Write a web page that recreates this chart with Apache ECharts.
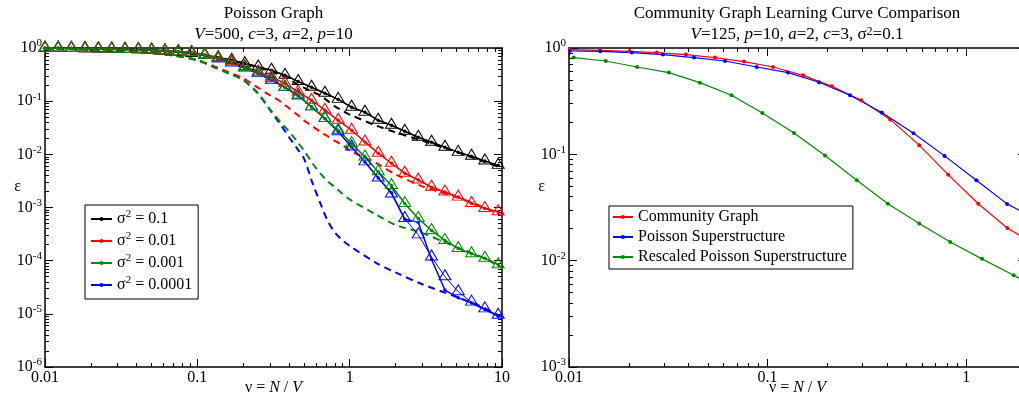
<!DOCTYPE html>
<html>
<head>
<meta charset="utf-8">
<script src="https://cdn.jsdelivr.net/npm/echarts@6/dist/echarts.min.js"></script>
<style>
  html, body { margin: 0; padding: 0; background: #fff; }
  #chartRoot { width: 1019px; height: 393px; }
</style>
</head>
<body>
<div id="chartRoot"></div>
<script>
// left panel: Poisson graph, sampled points (triangles), dotted fit, dashed theory
const sigmaLabels = ["0.1", "0.01", "0.001", "0.0001"];

const nuTri = [
  0.01, 0.0122, 0.0149, 0.0183, 0.0224, 0.0274, 0.0335, 0.041, 0.0501, 0.0613,
  0.075, 0.0917, 0.112, 0.137, 0.168, 0.205, 0.251, 0.307, 0.376, 0.459,
  0.562, 0.688, 0.841, 1.03, 1.26, 1.54, 1.88, 2.3, 2.82, 3.45,
  4.22, 5.16, 6.31, 7.72, 9.44,
];
const blackTri = [
  0.99, 0.99, 0.99, 0.98, 0.97, 0.96, 0.95, 0.94, 0.92, 0.88,
  0.84, 0.79, 0.73, 0.66, 0.587, 0.509, 0.439, 0.381, 0.307, 0.235,
  0.183, 0.141, 0.108, 0.0769, 0.0619, 0.0437, 0.0353, 0.0272, 0.021, 0.0169,
  0.0136, 0.0109, 0.0092, 0.0075, 0.0062,
];
const redTri = [
  0.99, 0.99, 0.98, 0.97, 0.96, 0.95, 0.94, 0.93, 0.91, 0.88,
  0.86, 0.83, 0.745, 0.65, 0.56, 0.45, 0.354, 0.285, 0.214, 0.149,
  0.104, 0.0676, 0.0437, 0.0284, 0.0171, 0.0105, 0.0068, 0.0044, 0.0033, 0.0024,
  0.00196, 0.00157, 0.00119, 0.00096, 0.00083,
];
const greenTri = [
  0.99, 0.99, 0.98, 0.97, 0.96, 0.95, 0.94, 0.93, 0.91, 0.88,
  0.85, 0.81, 0.73, 0.63, 0.53, 0.43, 0.34, 0.266, 0.18, 0.125,
  0.078, 0.047, 0.0283, 0.016, 0.0089, 0.0047, 0.0026, 0.00119, 0.00062, 0.00037,
  0.00024, 0.000169, 0.000135, 0.000111, 0.000084,
];
const blueTri = [
  0.99, 0.99, 0.98, 0.97, 0.96, 0.95, 0.94, 0.93, 0.91, 0.88,
  0.85, 0.8, 0.72, 0.62, 0.52, 0.42, 0.33, 0.247, 0.183, 0.129,
  0.078, 0.047, 0.0265, 0.0137, 0.0072, 0.0036, 0.0018, 0.00062, 0.000306, 0.000117,
  0.00005, 0.000026, 0.0000166, 0.0000124, 0.0000094,
];
const blueDot = [
  0.99, 0.99, 0.98, 0.97, 0.96, 0.95, 0.94, 0.93, 0.91, 0.88,
  0.85, 0.8, 0.72, 0.62, 0.52, 0.42, 0.33, 0.247, 0.183, 0.129,
  0.078, 0.047, 0.0265, 0.0137, 0.0072, 0.0036, 0.0019, 0.0006, 0.00053, 0.000105,
  0.000028, 0.00002, 0.000016, 0.000012, 0.000009,
];

const nuDash = [
  0.01, 0.02, 0.04, 0.07, 0.1, 0.13, 0.16, 0.2, 0.25, 0.3,
  0.35, 0.4, 0.45, 0.5, 0.57, 0.65, 0.72, 0.8, 0.9, 1,
  1.5, 2, 3, 5, 7, 10,
];
const blackDash = [
  0.99, 0.97, 0.93, 0.85, 0.77, 0.68, 0.6, 0.52, 0.44, 0.37,
  0.31, 0.26, 0.21, 0.18, 0.15, 0.125, 0.1, 0.08, 0.066, 0.056,
  0.0345, 0.026, 0.018, 0.0112, 0.0079, 0.0055,
];
const redDash = [
  0.99, 0.93, 0.84, 0.72, 0.59, 0.45, 0.35, 0.27, 0.18, 0.129,
  0.0995, 0.0737, 0.0566, 0.0437, 0.0337, 0.026, 0.0218, 0.0179, 0.0148, 0.0119,
  0.0068, 0.0042, 0.0025, 0.00157, 0.00111, 0.00071,
];
const greenDash = [
  0.99, 0.93, 0.84, 0.72, 0.59, 0.43, 0.335, 0.25, 0.14, 0.07,
  0.041, 0.027, 0.0177, 0.0119, 0.0068, 0.0042, 0.0031, 0.0024, 0.0018, 0.00142,
  0.00073, 0.00047, 0.00033, 0.00018, 0.000124, 0.000075,
];
const blueDash = [
  0.99, 0.93, 0.84, 0.72, 0.59, 0.43, 0.335, 0.25, 0.14, 0.068,
  0.037, 0.021, 0.0131, 0.0085, 0.0029, 0.0011, 0.00055, 0.00034, 0.00024, 0.00019,
  0.00009, 0.00006, 0.000036, 0.000021, 0.0000145, 0.0000087,
];

// right panel: community graph learning curves
const curveNames = ["Community Graph", "Poisson Superstructure", "Rescaled Poisson Superstructure"];
const nuComm = [0.0101, 0.0143, 0.0202, 0.0277, 0.0388, 0.0543, 0.0761, 0.1065, 0.151, 0.211, 0.296, 0.414, 0.58, 0.812, 1.15, 1.61, 2.25];
const commErr = [0.966, 0.951, 0.931, 0.905, 0.867, 0.812, 0.745, 0.663, 0.553, 0.436, 0.322, 0.213, 0.122, 0.0644, 0.0343, 0.0203, 0.0139];
const nuPois = [0.0101, 0.0144, 0.0207, 0.0297, 0.0426, 0.061, 0.0881, 0.1267, 0.1816, 0.26, 0.376, 0.543, 0.778, 1.125, 1.606, 2.31];
const poisErr = [0.937, 0.931, 0.905, 0.867, 0.812, 0.755, 0.663, 0.587, 0.476, 0.359, 0.247, 0.158, 0.0967, 0.057, 0.0342, 0.024];
const nuResc = [0.01056, 0.01531, 0.02203, 0.03184, 0.0456, 0.0659, 0.094, 0.1358, 0.1947, 0.2813, 0.4034, 0.58, 0.831, 1.2, 1.734, 2.5];
const rescErr = [0.812, 0.755, 0.663, 0.587, 0.472, 0.359, 0.245, 0.159, 0.0973, 0.057, 0.0343, 0.0224, 0.015, 0.0104, 0.0073, 0.0051];

const FONT = "Liberation Serif";
const colors = ["#000000", "#ff0000", "#008b00", "#0000ff"];

const zip = (xs, ys) => xs.map((x, i) => [x, ys[i]]);

function majorTicks(lo, hi) {
  const out = [];
  for (let e = lo; e <= hi; e++) out.push(Number(Math.pow(10, e).toPrecision(1)));
  return out;
}
function minorTicks(lo, hi) {
  const out = [];
  for (let e = lo; e < hi; e++) {
    for (let m = 2; m <= 9; m++) out.push(Number((m * Math.pow(10, e)).toPrecision(1)));
  }
  return out;
}

const plainLabel = (v) => String(Number(v.toPrecision(1)));
const powLabel = (v) => "{b|10}{e|" + Math.round(Math.log10(v)) + "}";

const labelRich = {
  b: { fontFamily: FONT, fontSize: 16, color: "#000", lineHeight: 20 },
  e: { fontFamily: FONT, fontSize: 11, color: "#000", verticalAlign: "top", lineHeight: 11 },
};

// four axes per side: main (line + major ticks + labels), minor ticks, mirrored main, mirrored minor
function frameAxes(gridIndex, dim, min, max, lo, hi, main) {
  const pos = dim === "x" ? ["bottom", "top"] : ["left", "right"];
  const majors = majorTicks(lo, hi);
  const minors = minorTicks(lo, hi);
  const base = (position) => ({
    gridIndex,
    type: "log",
    logBase: 10,
    min,
    max,
    position,
    splitLine: { show: false },
    axisLine: { show: false, onZero: false },
    axisLabel: { show: false },
  });
  const major = (position) => ({
    ...base(position),
    axisLine: { show: true, onZero: false, lineStyle: { color: "#000", width: 1.5 } },
    axisTick: { show: true, inside: true, length: 8, customValues: majors, lineStyle: { color: "#000" } },
  });
  const minor = (position) => ({
    ...base(position),
    axisTick: { show: true, inside: true, length: 4, customValues: minors, lineStyle: { color: "#000" } },
  });
  return [
    { ...major(pos[0]), ...main },
    minor(pos[0]),
    major(pos[1]),
    minor(pos[1]),
  ];
}

const nuName = "{n|ν = }{i|N}{n| / }{i|V}";
const nameRich = {
  n: { fontFamily: FONT, fontSize: 16, color: "#000" },
  i: { fontFamily: FONT, fontSize: 16, color: "#000", fontStyle: "italic" },
};

function xMain() {
  return {
    name: nuName,
    nameLocation: "middle",
    nameGap: 13,
    nameMoveOverlap: false,
    nameTextStyle: { rich: nameRich },
    axisLabel: {
      show: true,
      customValues: [0.01, 0.1, 1, 10],
      formatter: plainLabel,
      fontFamily: FONT,
      fontSize: 16,
      color: "#000",
      margin: 3,
    },
  };
}
// the tall empty token lifts the epsilon above the middle of the axis
function yMain(vals) {
  return {
    name: "{p|}{e|ε}",
    nameLocation: "middle",
    nameRotate: 0,
    nameGap: 24,
    nameMoveOverlap: false,
    nameTextStyle: {
      rich: {
        p: { lineHeight: 58, width: 0 },
        e: { fontFamily: FONT, fontSize: 16, color: "#000", verticalAlign: "top", lineHeight: 18 },
      },
    },
    axisLabel: {
      show: true,
      customValues: vals,
      formatter: powLabel,
      margin: 3,
      rich: labelRich,
    },
  };
}

const triSets = [blackTri, redTri, greenTri, blueTri];
const dotSets = [blackTri, redTri, greenTri, blueDot];
const dashSets = [blackDash, redDash, greenDash, blueDash];
const legendNames = sigmaLabels.map((s) => "σ² = " + s);

const series = [];
[3, 0, 1, 2].forEach((k) => {
  series.push({
    name: "theory " + sigmaLabels[k],
    type: "line",
    xAxisIndex: 0,
    yAxisIndex: 0,
    data: zip(nuDash, dashSets[k]),
    smooth: 0.3,
    showSymbol: false,
    lineStyle: { color: colors[k], width: 2, type: [7, 5] },
    silent: true,
  });
});
[3, 0, 1, 2].forEach((k) => {
  series.push({
    name: "sample " + sigmaLabels[k],
    type: "line",
    xAxisIndex: 0,
    yAxisIndex: 0,
    data: zip(nuTri, triSets[k]),
    symbol: "triangle",
    symbolSize: [12, 10],
    symbolOffset: [0, -2],
    itemStyle: { color: "rgba(0,0,0,0)", borderColor: colors[k], borderWidth: 1 },
    lineStyle: { color: colors[k], width: 1 },
    silent: true,
  });
  series.push({
    name: legendNames[k],
    type: "line",
    xAxisIndex: 0,
    yAxisIndex: 0,
    data: zip(nuTri, dotSets[k]),
    symbol: "circle",
    symbolSize: 3.5,
    itemStyle: { color: colors[k] },
    lineStyle: { color: colors[k], width: 1.5 },
    silent: true,
  });
});

const rightSets = [
  [nuComm, commErr, colors[1]],
  [nuPois, poisErr, colors[3]],
  [nuResc, rescErr, colors[2]],
];
rightSets.forEach(([xs, ys, c], i) => {
  series.push({
    name: curveNames[i],
    type: "line",
    xAxisIndex: 4,
    yAxisIndex: 4,
    data: zip(xs, ys),
    symbol: "circle",
    symbolSize: 4,
    itemStyle: { color: c },
    lineStyle: { color: c, width: 1.2 },
    silent: true,
  });
});

const titleBase = {
  textAlign: "center",
  top: 5,
  padding: 0,
  itemGap: 4,
  textStyle: { fontFamily: FONT, fontSize: 17, fontWeight: "normal", color: "#000" },
  subtextStyle: {
    fontFamily: FONT,
    fontSize: 17,
    color: "#000",
    rich: {
      i: { fontFamily: FONT, fontSize: 17, color: "#000", fontStyle: "italic" },
      s: { fontFamily: FONT, fontSize: 12, color: "#000", verticalAlign: "top", lineHeight: 10 },
    },
  },
};

const option = {
  animation: false,
  backgroundColor: "#fff",
  title: [
    { ...titleBase, left: 273.5, text: "Poisson Graph", subtext: "{i|V}=500, {i|c}=3, {i|a}=2, {i|p}=10" },
    {
      ...titleBase,
      left: 797,
      text: "Community Graph Learning Curve Comparison",
      subtext: "{i|V}=125, {i|p}=10, {i|a}=2, {i|c}=3, σ{s|2}=0.1",
    },
  ],
  legend: [
    {
      data: legendNames,
      orient: "vertical",
      left: 85,
      top: 205,
      padding: [4, 6, 6, 5],
      itemGap: 4,
      itemWidth: 21,
      itemHeight: 5,
      backgroundColor: "#fff",
      borderColor: "#000",
      borderWidth: 1,
      borderRadius: 0,
      selectedMode: false,
      formatter: (name) => "{g|σ}{s|2}{g| = " + name.replace("σ² = ", "") + "}",
      textStyle: {
        rich: {
          g: { fontFamily: FONT, fontSize: 16, color: "#000", lineHeight: 20 },
          s: { fontFamily: FONT, fontSize: 11, color: "#000", verticalAlign: "top", lineHeight: 11 },
        },
      },
    },
    {
      data: curveNames,
      orient: "vertical",
      left: 609,
      top: 206,
      padding: [2, 6, 3, 3],
      itemGap: 2,
      itemWidth: 20,
      itemHeight: 5,
      backgroundColor: "#fff",
      borderColor: "#000",
      borderWidth: 1,
      borderRadius: 0,
      selectedMode: false,
      textStyle: { fontFamily: FONT, fontSize: 16, color: "#000", lineHeight: 18 },
    },
  ],
  grid: [
    { left: 45, right: 517, top: 48, bottom: 26, outerBoundsMode: "none" },
    { left: 569, right: -7, top: 48, bottom: 26, outerBoundsMode: "none" },
  ],
  xAxis: [
    ...frameAxes(0, "x", 0.01, 10, -2, 1, xMain()),
    ...frameAxes(1, "x", 0.01, 2, -2, 1, xMain()),
  ],
  yAxis: [
    ...frameAxes(0, "y", 1e-6, 1, -6, 0, yMain(majorTicks(-6, 0))),
    ...frameAxes(1, "y", 1e-3, 1, -3, 0, yMain(majorTicks(-3, 0))),
  ],
  series,
};

const myChart = echarts.init(document.getElementById("chartRoot"));
myChart.setOption(option);
</script>
</body>
</html>
